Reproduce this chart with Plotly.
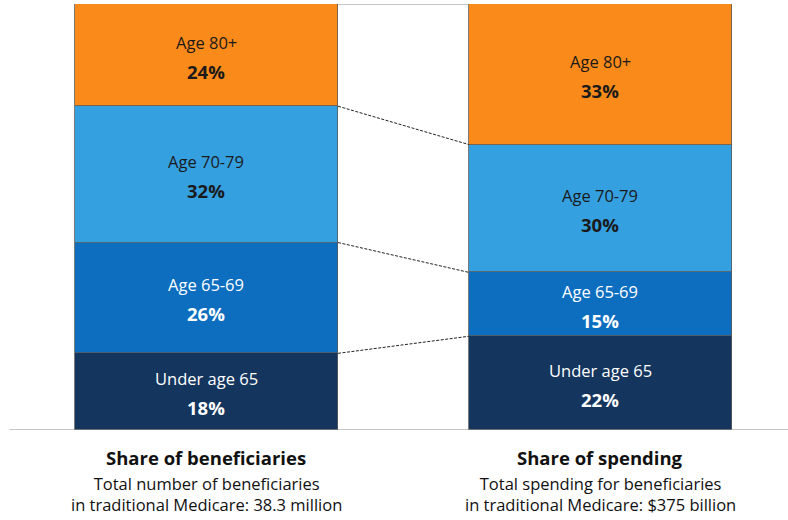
import plotly.graph_objects as go

# ---- data ----
bar_names = ["Share of beneficiaries", "Share of spending"]
bar_subtitles = ["Total number of beneficiaries<br>in traditional Medicare: 38.3 million",
                 "Total spending for beneficiaries<br>in traditional Medicare: $375 billion"]
segments = ["Under age 65", "Age 65-69", "Age 70-79", "Age 80+"]
beneficiaries = [18, 26, 32, 24]
spending = [22, 15, 30, 33]

colors = ["#14355E", "#0D6EBF", "#35A0E0", "#FA8A1A"]
text_colors = ["white", "white", "#1A1A1A", "#1A1A1A"]

FONT = "Open Sans"
xs = [0, 1]
bar_w = 0.668

fig = go.Figure()
series = [beneficiaries, spending]
for i, seg in enumerate(segments):
    fig.add_trace(go.Bar(
        x=xs, y=[beneficiaries[i], spending[i]], name=seg, width=bar_w,
        marker=dict(color=colors[i], line=dict(color="#5A5A5A", width=0.8)),
        hoverinfo="skip", showlegend=False,
    ))

# labels inside segments
for bi, vals in enumerate(series):
    cum = 0
    for i, v in enumerate(vals):
        mid = cum + v / 2
        cum += v
        fig.add_annotation(
            x=xs[bi], y=mid, xref="x", yref="y", showarrow=False, yshift=13,
            text=segments[i],
            font=dict(family=FONT, size=16.5, color=text_colors[i]),
        )
        fig.add_annotation(
            x=xs[bi], y=mid, xref="x", yref="y", showarrow=False, yshift=-16,
            text=f"<b>{v}%</b>",
            font=dict(family=FONT, size=18.5, color=text_colors[i]),
        )

# connector lines between bars
cumL, cumR = 0, 0
bounds = []
for i in range(len(segments)):
    cumL += beneficiaries[i]
    cumR += spending[i]
    bounds.append((cumL, cumR))
for j, (a, b) in enumerate(bounds):
    last = j == len(bounds) - 1
    fig.add_trace(go.Scatter(
        x=[xs[0] + bar_w / 2, xs[1] - bar_w / 2], y=[a, b], mode="lines",
        line=dict(color="#8C8C8C" if last else "#222222", width=1,
                  dash="solid" if last else "3px,1.5px"),
        hoverinfo="skip", showlegend=False,
    ))

# baseline
fig.add_shape(type="line", xref="paper", yref="y", x0=0.012, x1=1, y0=0, y1=0,
              line=dict(color="#8C8C8C", width=1.2))

# category titles below
for bi in range(2):
    fig.add_annotation(
        x=xs[bi], y=0, xref="x", yref="y", yanchor="middle", yshift=-27, showarrow=False,
        text=f"<b>{bar_names[bi]}</b>",
        font=dict(family=FONT, size=18.5, color="#111111"),
    )
    fig.add_annotation(
        x=xs[bi], y=0, xref="x", yref="y", yanchor="middle", yshift=-63.5, showarrow=False,
        text=bar_subtitles[bi], align="center",
        font=dict(family=FONT, size=16.5, color="#111111"),
    )

fig.update_layout(
    width=788, height=520,
    margin=dict(l=0, r=0, t=4, b=90),
    paper_bgcolor="white", plot_bgcolor="white",
    barmode="stack", bargap=0,
    xaxis=dict(range=[-0.524, 1.476], visible=False, fixedrange=True),
    yaxis=dict(range=[0, 100], visible=False, fixedrange=True),
)

fig.write_html("out.html", config={"displayModeBar": False},
               post_script="document.body.style.margin='0';document.body.style.overflow='hidden';")
